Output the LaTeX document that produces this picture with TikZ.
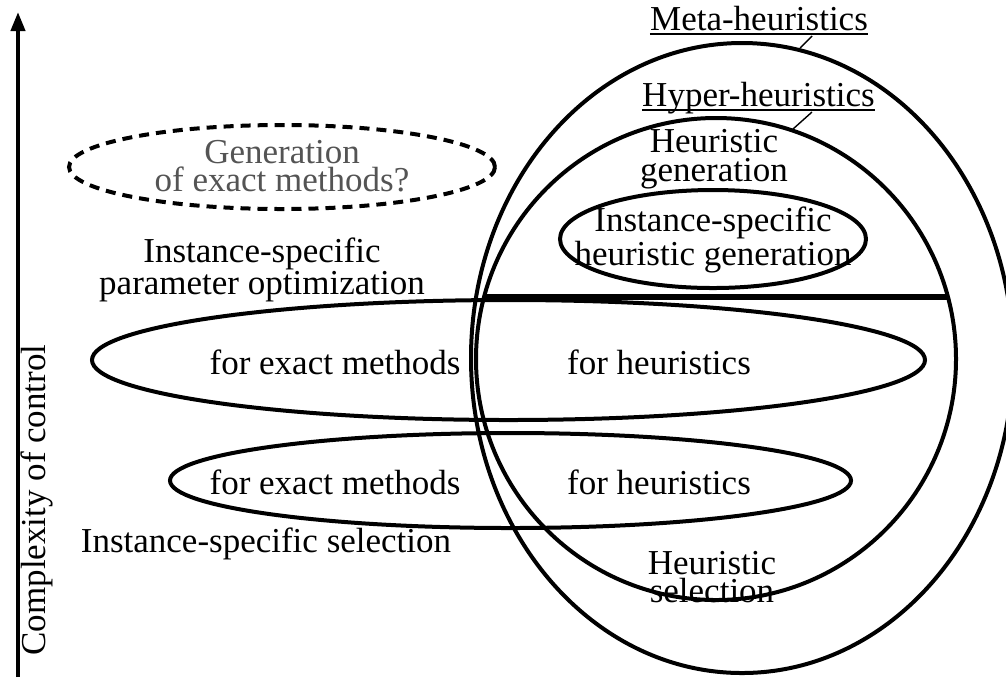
\documentclass[tikz,border=0pt]{standalone}
\usepackage{fontspec}
\setmainfont{Liberation Serif}
\usetikzlibrary{arrows.meta}
\definecolor{softgray}{gray}{0.33}
\begin{document}
\begin{tikzpicture}[x=0.5pt,y=-0.5pt,
  ring/.style={line width=2pt},
  lbl/.style={font=\fontsize{17.5}{14.2}\selectfont, align=center, inner sep=0pt},
  leader/.style={line width=0.7pt},
  uline/.style={line width=1pt}]
\useasboundingbox (0,0) rectangle (1006,677);

% axis of increasing complexity
\coordinate (axisfoot) at (18,677);
\coordinate (axistip) at (18,12);
\draw[line width=2pt, -{Triangle[length=9.5pt,width=7pt]}] (axisfoot) -- (axistip);
\node[lbl, rotate=90] (axislbl) at (37,500) {Complexity of control};

% nested families of methods
\draw[ring] (742,358) ellipse [x radius=271, y radius=315];   % meta-heuristics
\draw[ring] (716,359) ellipse [x radius=240, y radius=241];   % hyper-heuristics
\draw[line width=2.8pt] (484,297) -- (948,297);               % generation / selection split
\draw[ring] (713,239) ellipse [x radius=153, y radius=49];    % instance-specific generation
\draw[ring] (508.5,360) ellipse [x radius=416.5, y radius=60]; % parameter optimization
\draw[ring] (510.5,480.5) ellipse [x radius=340.5, y radius=47.5]; % selection
\draw[ring, dash pattern=on 5pt off 3.5pt] (282,167) ellipse [x radius=213, y radius=42];

% titles with leaders
\node[lbl, anchor=base] (metalbl) at (759,30) {Meta-heuristics};
\draw[uline] ([yshift=-2pt]metalbl.base west) -- ([yshift=-2pt]metalbl.base east);
\coordinate (metafrom) at (812,36);
\coordinate (metato) at (800,48);
\draw[leader] (metafrom) -- (metato);

\node[lbl, anchor=base] (hyperlbl) at (758.5,106) {Hyper-heuristics};
\draw[uline] ([yshift=-2pt]hyperlbl.base west) -- ([yshift=-2pt]hyperlbl.base east);
\coordinate (hyperfrom) at (812,112);
\coordinate (hyperto) at (793,129);
\draw[leader] (hyperfrom) -- (hyperto);

% labels
\node[lbl] (hgen) at (714,159) {Heuristic\\generation};
\node[lbl] (ishgen) at (713,240) {Instance-specific\\heuristic generation};
\node[lbl, text=softgray] (exgen) at (282,166) {Generation\\of exact methods?};
\node[lbl] (ispo) at (262,270) {Instance-specific\\parameter optimization};
\node[lbl] (poexact) at (335,362) {for exact methods};
\node[lbl] (poheur) at (659,362) {for heuristics};
\node[lbl] (selexact) at (335,482) {for exact methods};
\node[lbl] (selheur) at (659,482) {for heuristics};
\node[lbl] (issel) at (266,544) {Instance-specific selection};
\node[lbl] (hsel) at (712,577) {Heuristic\\selection};
\end{tikzpicture}
\end{document}
